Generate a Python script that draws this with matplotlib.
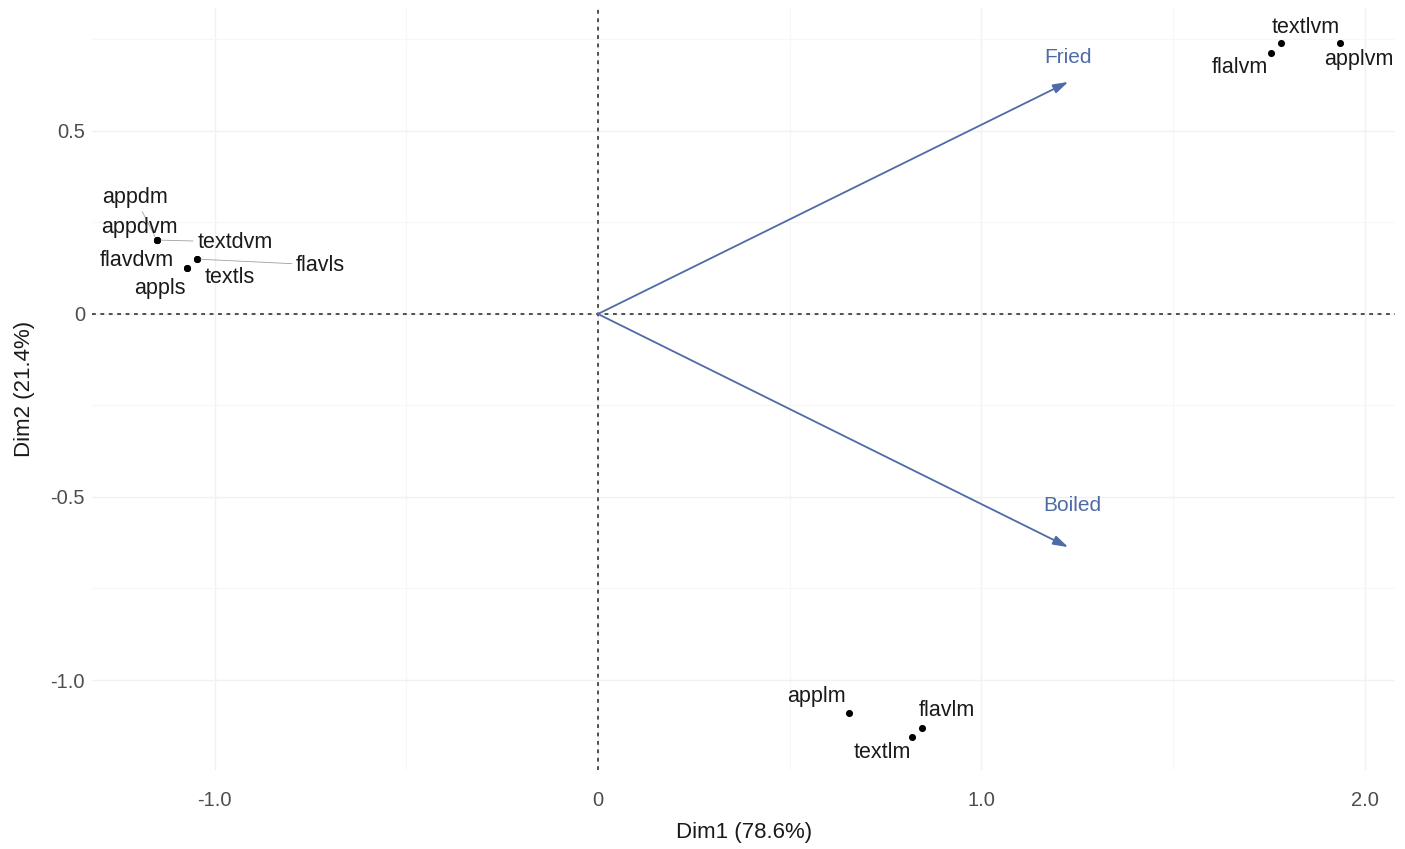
import matplotlib
matplotlib.use('Agg')
import matplotlib.pyplot as plt
from matplotlib.ticker import MultipleLocator

plt.rcParams['font.family'] = ['Liberation Sans', 'DejaVu Sans']

# righe (punti) del biplot CA
righe = ['appdm', 'appdvm', 'textdvm', 'flavdvm', 'textls', 'appls', 'flavls',
         'textlvm', 'flalvm', 'applvm', 'applm', 'flavlm', 'textlm']
dim1 = [-1.151, -1.151, -1.151, -1.073, -1.047, -1.073, -1.047,
        1.781, 1.755, 1.935, 0.655, 0.846, 0.820]
dim2 = [0.202, 0.202, 0.202, 0.126, 0.150, 0.126, 0.150,
        0.740, 0.713, 0.740, -1.090, -1.131, -1.156]

# colonne (frecce)
colonne = ['Fried', 'Boiled']
col_dim1 = [1.227, 1.227]
col_dim2 = [0.634, -0.637]

# posizione etichette (offset in pixel, stile ggrepel) e se disegnare il segmento
offset = {
    'appdm': (-22, 43, True), 'appdvm': (-17, 13, False), 'textdvm': (78, -2, True),
    'flavdvm': (-50, 7, False), 'textls': (33, -18, False), 'appls': (-27, -21, False),
    'flavls': (124, -6, True), 'textlvm': (25, 16, False), 'flalvm': (-31, -14, False),
    'applvm': (19, -16, False), 'applm': (-33, 16, False), 'flavlm': (25, 17, False),
    'textlm': (-30, -15, False),
}
off_col = {'Fried': (0, 24), 'Boiled': (4, 42)}

blu = '#4E6BA6'

fig = plt.figure(figsize=(14.05, 8.49), dpi=100)
ax = fig.add_axes([0.0655, 0.093, 0.9275, 0.8976])

ax.set_xlim(-1.32, 2.08)
ax.set_ylim(-1.246, 0.836)

# griglia tipo theme_minimal
ax.xaxis.set_major_locator(MultipleLocator(1.0))
ax.xaxis.set_minor_locator(MultipleLocator(0.5))
ax.yaxis.set_major_locator(MultipleLocator(0.5))
ax.yaxis.set_minor_locator(MultipleLocator(0.25))
ax.grid(True, which='major', color='#F1F1F1', lw=1.0)
ax.grid(True, which='minor', color='#F7F7F7', lw=0.8)
ax.set_axisbelow(True)
for s in ax.spines.values():
    s.set_visible(False)
ax.tick_params(which='both', length=0)
ax.tick_params(axis='x', pad=15, labelsize=14.5, labelcolor='#4D4D4D')
ax.tick_params(axis='y', pad=5, labelsize=14.5, labelcolor='#4D4D4D')
ax.set_xticks([-1, 0, 1, 2])
ax.set_xticklabels(['-1.0', '0', '1.0', '2.0'])
ax.set_yticks([-1, -0.5, 0, 0.5])
ax.set_yticklabels(['-1.0', '-0.5', '0', '0.5'])

# assi a zero tratteggiati
ax.axhline(0, color='#222222', lw=1.1, ls=(0, (2.5, 3)), zorder=1)
ax.axvline(0, color='#222222', lw=1.1, ls=(0, (2.5, 3)), zorder=1)

# frecce delle colonne
for nome, x, y in zip(colonne, col_dim1, col_dim2):
    ax.annotate('', xy=(x, y), xytext=(0, 0),
                arrowprops=dict(arrowstyle='-|>,head_length=0.9,head_width=0.28',
                                color=blu, lw=1.3, shrinkA=0, shrinkB=0))
    dx, dy = off_col[nome]
    ax.annotate(nome, xy=(x, y), xytext=(dx, dy), textcoords='offset pixels',
                ha='center', va='center', color=blu, fontsize=15)

# punti delle righe
ax.scatter(dim1, dim2, s=26, color='black', zorder=3, linewidths=0)
for nome, x, y in zip(righe, dim1, dim2):
    dx, dy, seg = offset[nome]
    ap = None
    if seg:
        ap = dict(arrowstyle='-', color='#A0A0A0', lw=0.6, shrinkA=1, shrinkB=3)
    ax.annotate(nome, xy=(x, y), xytext=(dx, dy), textcoords='offset pixels',
                ha='center', va='center', color='#1A1A1A', fontsize=15.5,
                arrowprops=ap)

ax.set_xlabel('Dim1 (78.6%)', fontsize=16, color='#1A1A1A', labelpad=9)
ax.set_ylabel('Dim2 (21.4%)', fontsize=16, color='#1A1A1A', labelpad=11)

fig.savefig('out.png', dpi=100)
